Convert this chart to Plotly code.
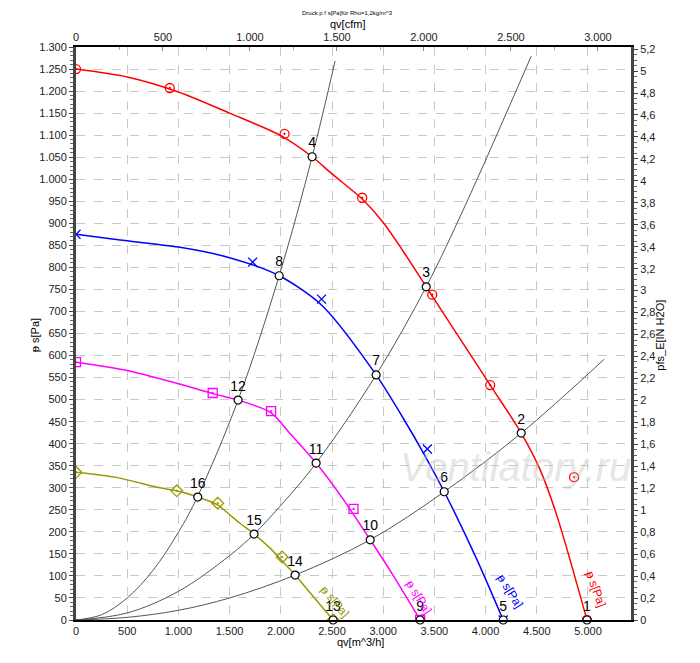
import plotly.graph_objects as go

# Kennlinien p_fs [Pa] über qv [m^3/h]
red_q = [0, 500, 1000, 1500, 2000, 2306, 2500, 2795, 3000, 3200, 3420, 3700, 4045, 4348, 4534, 4700, 4990]
red_p = [1250, 1232, 1198, 1150, 1099, 1051, 1012, 955, 902, 835, 756, 656, 533, 424, 340, 234, 0]
blue_q = [0, 430, 1000, 1500, 1984, 2400, 2931, 3200, 3400, 3596, 3900, 4172]
blue_p = [875, 862, 846, 822, 781, 714, 556, 456, 376, 291, 145, 0]
mag_q = [0, 500, 1000, 1345, 1583, 1905, 2086, 2345, 2600, 2873, 3100, 3361]
mag_p = [585, 566, 536, 513, 499, 470, 424, 356, 277, 182, 100, 0]
olive_q = [0, 400, 819, 984, 1189, 1384, 1470, 1598, 1739, 1900, 2013, 2140, 2300, 2511]
olive_p = [335, 323, 300, 293, 279, 261, 245, 220, 195, 162, 134, 102, 58, 0]

# Messpunkte
red_mq = [0, 916, 2037, 2795, 3479, 4045, 4864, 4990]
red_mp = [1250, 1207, 1103, 958, 738, 533, 324, 0]
blue_mq = [0, 1725, 2398, 3431, 4172]
blue_mp = [875, 812, 728, 388, 0]
mag_mq = [0, 1335, 1905, 2710, 3361]
mag_mp = [585, 515, 474, 252, 0]
olive_mq = [0, 984, 1384, 2013, 2511]
olive_mp = [335, 293, 265, 143, 0]

# Anlagenkennlinien
sysA_q = [0, 250, 500, 750, 1000, 1189, 1583, 1984, 2306, 2530]
sysA_p = [0, 12, 50, 112, 199, 281, 499, 781, 1051, 1268]
sysB_q = [0, 500, 1000, 1500, 1739, 2000, 2345, 2931, 3420, 3800, 4445]
sysB_p = [0, 16, 65, 146, 195, 260, 356, 556, 756, 940, 1279]
sysC_q = [0, 500, 1000, 1500, 2140, 2873, 3596, 4348, 5160]
sysC_p = [0, 6, 22, 50, 102, 182, 291, 424, 592]

# Betriebspunkte 1..16
op_q = [4990, 4348, 3420, 2306, 4172, 3596, 2931, 1984, 3361, 2873, 2345, 1583, 2511, 2140, 1739, 1189]
op_p = [0, 424, 756, 1051, 0, 291, 556, 781, 0, 182, 356, 499, 0, 102, 195, 279]
op_labels = [str(i) for i in range(1, 17)]

# Beschriftung der Kennlinien (q, p, Winkel)
curve_label = 'ᵽ s[Pa]'
label_q = [5075, 4235, 3345, 2520]
label_p = [70, 65, 52, 42]
label_angle = [70, 58, 58, 50]

colors = ['#ff0000', '#0000ff', '#ff00ff', '#999900']
font = 'Liberation Sans, Arial, sans-serif'

fig = go.Figure()

for q, p in [(sysA_q, sysA_p), (sysB_q, sysB_p), (sysC_q, sysC_p)]:
    fig.add_trace(go.Scatter(x=q, y=p, mode='lines', line=dict(color='#555555', width=1, shape='spline'),
                             hoverinfo='skip', showlegend=False))

curves = [(red_q, red_p), (blue_q, blue_p), (mag_q, mag_p), (olive_q, olive_p)]
for (q, p), c in zip(curves, colors):
    fig.add_trace(go.Scatter(x=q, y=p, mode='lines', line=dict(color=c, width=1.5, shape='spline', smoothing=0.8),
                             showlegend=False))

meas = [(red_mq, red_mp, 'circle-dot'), (blue_mq, blue_mp, 'x-thin'),
        (mag_mq, mag_mp, 'square-dot'), (olive_mq, olive_mp, 'diamond-dot')]
for (q, p, sym), c in zip(meas, colors):
    fig.add_trace(go.Scatter(x=q, y=p, mode='markers',
                             marker=dict(symbol=sym, size=9, color='rgba(0,0,0,0)',
                                         line=dict(color=c, width=1.3)),
                             showlegend=False))

fig.add_trace(go.Scatter(x=op_q, y=op_p, mode='markers+text', text=op_labels, textposition='top center',
                         textfont=dict(family=font, size=14, color='black'),
                         marker=dict(symbol='circle', size=8, color='white', line=dict(color='black', width=1.2)),
                         cliponaxis=False, showlegend=False))

# Dummy-Spuren für die Zweitachsen
fig.add_trace(go.Scatter(x=[0], y=[0], xaxis='x2', yaxis='y', mode='markers', marker=dict(opacity=0),
                         hoverinfo='skip', showlegend=False))
fig.add_trace(go.Scatter(x=[0], y=[0], xaxis='x', yaxis='y2', mode='markers', marker=dict(opacity=0),
                         hoverinfo='skip', showlegend=False))

for q, p, a, c in zip(label_q, label_p, label_angle, colors):
    fig.add_annotation(x=q, y=p, text=curve_label, textangle=a, showarrow=False,
                       font=dict(family=font, size=12, color=c))

# Wasserzeichen
fig.add_annotation(x=4290, y=347, text='Ventilatory.ru', showarrow=False,
                   font=dict(family=font, size=40, color='rgba(190,190,190,0.4)', style='italic'))

# Titel und Achsentitel
texts = [
    (0.49, 1.060, 'Druck p f s[Pa]für Rho=1,2kg/m^3', 0, 6),
    (0.49, 1.040, 'qv[cfm]', 0, 11),
    (0.512, -0.038, 'qv[m^3/h]', 0, 11),
    (-0.074, 0.497, 'ᵽ s[Pa]', -90, 11),
    (1.053, 0.497, 'pfs_E[IN H2O]', -90, 11),
]
for x, y, t, a, s in texts:
    fig.add_annotation(xref='paper', yref='paper', x=x, y=y, text=t, textangle=a, showarrow=False,
                       xanchor='center', yanchor='middle', font=dict(family=font, size=s, color='black'))

tickfont = dict(family=font, size=11, color='#222222')
grid = dict(showgrid=True, gridcolor='#c8c8c8', griddash='dash', gridwidth=1)

# die Seite hat 8 px Rand, daher etwas kleiner als das Fenster
fig.update_layout(
    width=684, height=647,
    margin=dict(l=68, r=61, t=39, b=35, autoexpand=False),
    plot_bgcolor='white', paper_bgcolor='white',
    separators=',.',
    xaxis=dict(range=[0, 5420], dtick=500, tickfont=tickfont, showline=True, linecolor='black', linewidth=2,
               ticks='', zeroline=False, separatethousands=True, automargin=False, **grid),
    xaxis2=dict(range=[0, 3190], dtick=500, overlaying='x', side='top', anchor='y', tickfont=tickfont,
                showline=True, linecolor='black', linewidth=2, ticks='inside', ticklen=4, tickcolor='#888888',
                minor=dict(dtick=250, ticks='inside', ticklen=3, tickcolor='#aaaaaa'),
                showgrid=False, zeroline=False, separatethousands=True, automargin=False),
    yaxis=dict(range=[0, 1300], dtick=50, tickfont=tickfont, showline=True, linecolor='#444444', linewidth=3,
               ticks='outside', ticklen=4, tickcolor='#444444',
               minor=dict(dtick=10, ticks='outside', ticklen=3, tickcolor='#666666'),
               zeroline=False, separatethousands=True, automargin=False, **grid),
    yaxis2=dict(range=[0, 5.219], dtick=0.2, overlaying='y', side='right', anchor='x', tickfont=tickfont,
                showline=True, linecolor='#444444', linewidth=3, ticks='outside', ticklen=4, tickcolor='#444444',
                minor=dict(dtick=0.05, ticks='outside', ticklen=3, tickcolor='#666666'),
                showgrid=False, zeroline=False, automargin=False),
)

fig.write_html('out.html')
